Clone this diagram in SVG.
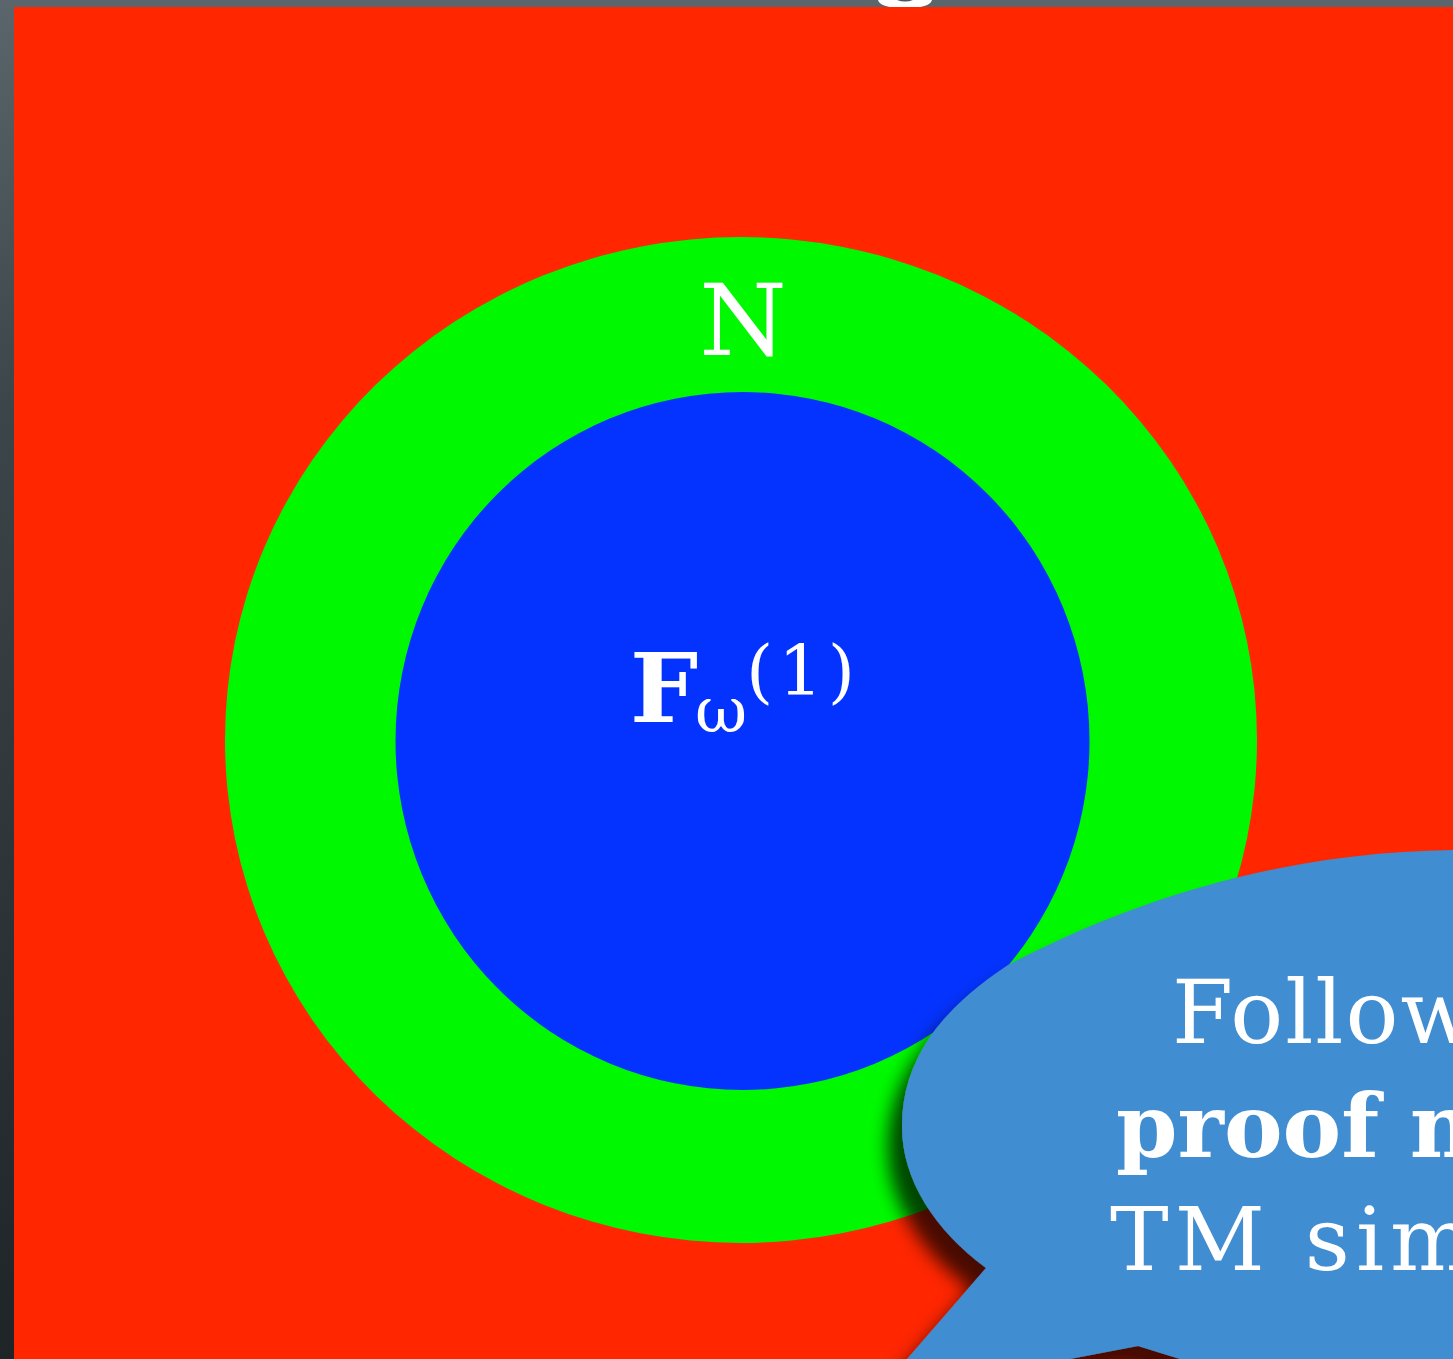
<svg xmlns="http://www.w3.org/2000/svg" width="1453" height="1359" viewBox="0 0 1453 1359">
<defs>
<linearGradient id="bg" x1="0" y1="0" x2="0" y2="1">
<stop offset="0" stop-color="#5a666b"/>
<stop offset="0.3" stop-color="#3c4549"/>
<stop offset="1" stop-color="#1f2427"/>
</linearGradient>
<filter id="shadow" x="-20%" y="-20%" width="140%" height="140%">
<feDropShadow dx="-14" dy="22" stdDeviation="9" flood-color="#000" flood-opacity="0.72"/>
</filter>
</defs>
<style>
.lbl{fill:#fff;font-family:"DejaVu Serif","Liberation Serif",serif}
.bub{fill:#fff;font-family:"DejaVu Serif","Liberation Serif",serif;font-size:88px}
</style>
<rect width="1453" height="1359" fill="url(#bg)"/>
<path d="M878 0 Q880 8 905 8 Q930 8 932 0 Z" fill="#fff"/>
<path d="M897 0 Q905 3 913 0 Z" fill="#4c575c"/>
<g id="region-red">
<rect x="14" y="7" width="1439" height="1352" fill="#ff2600"/>
</g>
<g id="set-N">
<ellipse cx="741" cy="740" rx="516" ry="503" fill="#00f900"/>
<text class="lbl" x="743" y="355" font-size="100" text-anchor="middle">N</text>
</g>
<g id="set-F">
<ellipse cx="742.5" cy="741" rx="347" ry="349" fill="#0433ff"/>
<text class="lbl" x="630" y="722" font-size="96" font-weight="bold">F</text>
<text class="lbl" x="695" y="732" font-size="64">ω</text>
<text class="lbl" x="746" y="695" font-size="70" letter-spacing="5">(1)</text>
</g>
<g id="connectors"/>
<g id="callout">
<path d="M1453 850 C1300 852 1150 890 1008 965 C940 1010 902 1060 902 1127 C902 1180 935 1230 986 1268 L907 1359 L1070 1359 L1138 1346 L1180 1359 L1453 1359 Z" fill="#418dd1" filter="url(#shadow)"/>
<text class="bub" x="1172" y="1043" letter-spacing="2">Follow</text>
<text class="bub" x="1116" y="1157" font-weight="bold">proof n</text>
<text class="bub" x="1110" y="1270" letter-spacing="6">TM sim</text>
</g>
</svg>
